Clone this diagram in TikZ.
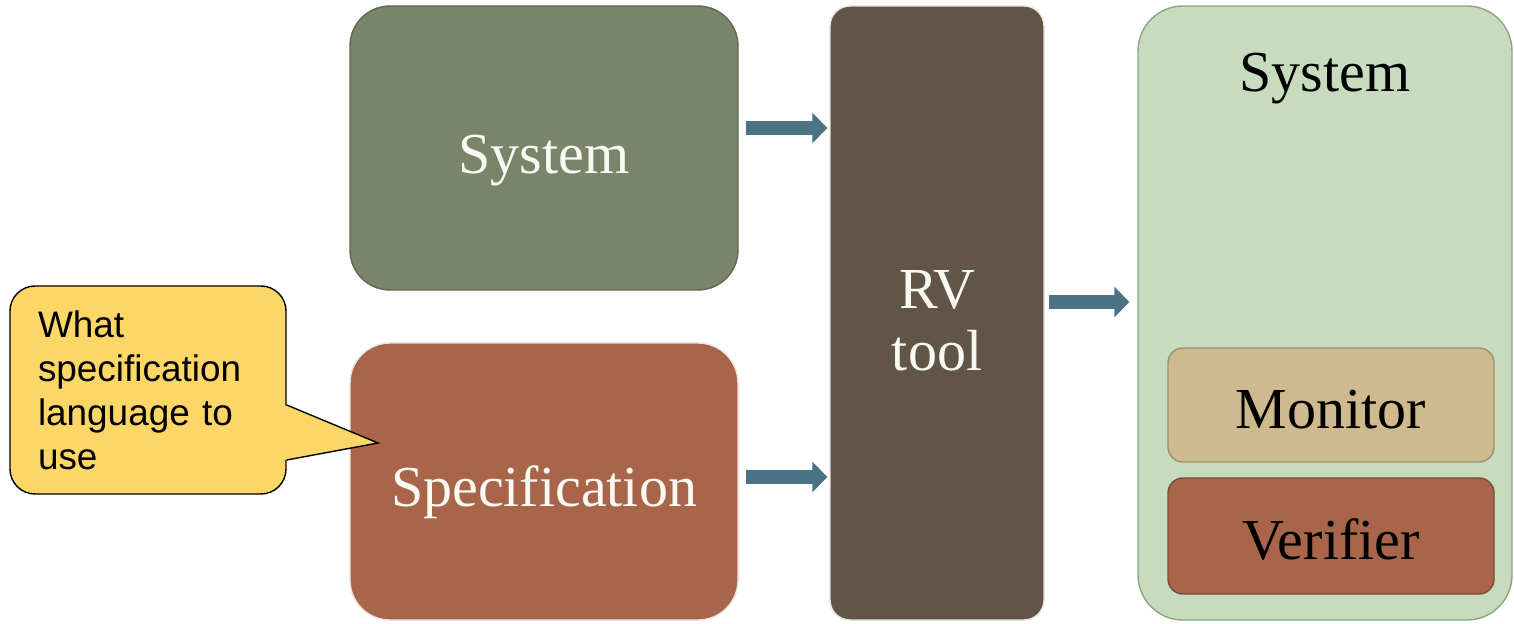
\documentclass[tikz,border=0pt]{standalone}
\usepackage{fontspec}
\setmainfont{Liberation Serif}
\newfontfamily\calloutfont{Liberation Sans}
\usepackage{xcolor}
\usepackage{tikz}
\usetikzlibrary{arrows.meta,positioning,calc}

\definecolor{sysgreen}{RGB}{122,132,106}
\definecolor{sysedge}{RGB}{94,104,80}
\definecolor{specred}{RGB}{168,101,74}
\definecolor{rvbrown}{RGB}{96,85,71}
\definecolor{palegreen}{RGB}{199,220,190}
\definecolor{paleedge}{RGB}{140,165,130}
\definecolor{montan}{RGB}{207,185,142}
\definecolor{monedge}{RGB}{150,145,110}
\definecolor{veredge}{RGB}{120,75,55}
\definecolor{flowblue}{RGB}{74,115,133}
\definecolor{noteyellow}{RGB}{252,214,103}
\definecolor{glow}{RGB}{232,226,220}
\definecolor{lighttext}{RGB}{250,250,242}

\newcommand{\lowertext}[2]{\raisebox{-#1}[\height][\depth]{#2}}

\begin{document}
\begin{tikzpicture}[
    block/.style={rectangle, thick, text=lighttext, font=\fontsize{33}{35}\selectfont, align=center, rounded corners=0.8cm},
    inner/.style={rectangle, thick, font=\fontsize{33}{35}\selectfont, minimum width=6.52cm, rounded corners=0.3cm},
    flow/.style={line width=0.28cm, draw=flowblue, -{Triangle[length=0.3cm, width=0.6cm]}},
    note/.style={rectangle, draw=black, thick, fill=noteyellow, rounded corners=0.5cm, font=\calloutfont\fontsize{21}{25}\selectfont, align=left, text width=4.4cm, inner xsep=0.56cm, minimum height=4.16cm}
]
    \useasboundingbox (0,0) rectangle (30.28,-12.48);

    % Components
    \node[block, draw=sysedge, fill=sysgreen, minimum width=7.76cm, minimum height=5.68cm] (sys) at (10.88,-2.96) {\lowertext{0.26cm}{System}};
    \node[block, draw=glow, fill=specred, minimum width=7.76cm, minimum height=5.54cm] (spec) at (10.88,-9.63) {\lowertext{0.22cm}{Specification}};
    \node[block, draw=glow, fill=rvbrown, minimum width=4.28cm, minimum height=12.28cm, rounded corners=0.4cm] (rv) at (18.74,-6.26) {\lowertext{0.28cm}{\begin{tabular}{@{}c@{}}RV\\tool\end{tabular}}};
    \node[block, draw=paleedge, fill=palegreen, minimum width=7.48cm, minimum height=12.28cm, rounded corners=0.9cm] (target) at (26.5,-6.26) {};
    \node[font=\fontsize{33}{35}\selectfont, below=0.84cm of target.north] (targetlabel) {System};
    \node[inner, draw=monedge, fill=montan, minimum height=2.28cm] (monitor) at (26.62,-8.1) {\lowertext{0.1cm}{Monitor}};
    \node[inner, draw=veredge, fill=specred, minimum height=2.32cm] (verifier) at (26.62,-10.72) {\lowertext{0.08cm}{Verifier}};

    % Callout
    \node[note] (callout) at (2.96,-7.8) {What\\specification\\language to\\use};
    \coordinate (tip) at (7.56,-8.86);
    \fill[noteyellow] ($(callout.east)+(-0.05,-0.3)$) -- (tip) -- ($(callout.east)+(-0.05,-1.4)$) -- cycle;
    \draw[thick] ($(callout.east)+(0,-0.3)$) -- (tip) -- ($(callout.east)+(0,-1.4)$);

    % Arrows
    \draw[flow] ([xshift=0.14cm, yshift=0.4cm]sys.east) -- ([xshift=-0.04cm, yshift=0.4cm]sys.east -| rv.west);
    \draw[flow] ([xshift=0.14cm, yshift=0.09cm]spec.east) -- ([xshift=-0.04cm, yshift=0.09cm]spec.east -| rv.west);
    \draw[flow] ([xshift=0.08cm, yshift=0.22cm]rv.east) -- ([xshift=-0.16cm, yshift=0.22cm]rv.east -| target.west);
\end{tikzpicture}
\end{document}
